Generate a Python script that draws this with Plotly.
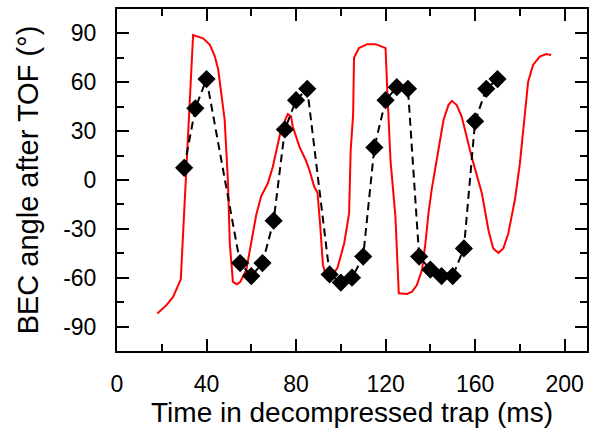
import plotly.graph_objects as go

# Experimental data (black diamonds)
exp_t = [30, 35, 40, 55, 60, 65, 70, 75, 80, 85, 95, 100, 105, 110, 115, 120,
         125, 130, 135, 140, 145, 150, 155, 160, 165, 170]
exp_angle = [7.5, 44, 62, -51, -59, -51, -25, 31, 49, 56, -58, -63, -60, -47, 20, 49,
             57, 56, -47, -55, -59, -59, -42, 36, 56, 62]

# Simulation (red line)
sim_t = [18, 22, 25, 27, 28.5, 34, 38.5, 41.5, 43.7, 45.2, 46.7, 48.1, 49, 49.6, 50.4,
         51.8, 53.6, 55.1, 57.8, 60, 62.2, 64.4, 67.4, 69.6, 71.1, 73.3, 76.3, 77.8,
         78.5, 81.5, 84.4, 86, 88.1, 89.6, 90.8, 92, 93.3, 95.5, 98.5, 101.5, 103.7,
         104.4, 105.5, 105.9, 108.1, 111.8, 115.6, 120, 120.7, 121.5, 122.2, 124.4,
         125.9, 129.6, 131.8, 134, 136.3, 137.8, 139.2, 140.7, 142.9, 145.9, 148.1,
         149.6, 151.8, 154, 158.5, 163, 166, 168.1, 170.4, 172.6, 174.8, 177.8, 180,
         182.2, 183.7, 185.9, 188.9, 191.8, 194]
sim_angle = [-82, -77, -72, -65, -61, 89, 87, 83, 76, 68, 53, 37, 14, -2, -39,
             -62.5, -64, -62.5, -55, -39, -21.5, -10, -2, 8, 18, 31, 40.5, 39,
             33, 20.5, 12, 6, -4, -8, -28, -52, -58.5, -60, -54, -39, -20.5,
             18, 40, 75, 81, 83.4, 83.4, 81, 57, 33, 12, -22.5,
             -69.6, -70, -68.6, -64.5, -55, -39, -20, -5, 12.3, 37, 46,
             48.6, 46, 39, 14, -8, -31, -42, -44.7, -42, -33, -12, 10,
             41, 60.4, 70.7, 75.8, 77.3, 76.8]

x_ticks = [0, 40, 80, 120, 160, 200]
y_ticks = [-90, -60, -30, 0, 30, 60, 90]
y_ticktext = ["-90", "-60", "-30", "0", "30", "60", "90"]

FONT = "Liberation Sans, Arial, sans-serif"

fig = go.Figure()
fig.add_trace(go.Scatter(x=sim_t, y=sim_angle, mode="lines",
                         line=dict(color="#ff0000", width=2), showlegend=False))
fig.add_trace(go.Scatter(x=exp_t, y=exp_angle, mode="lines+markers",
                         line=dict(color="black", width=2, dash="8px,5px"),
                         marker=dict(symbol="diamond", size=14, color="black"),
                         showlegend=False))

axis_common = dict(
    showline=True, linecolor="black", linewidth=2, mirror="ticks",
    ticks="inside", ticklen=12, tickwidth=2, tickcolor="black",
    showgrid=False, zeroline=False,
    tickfont=dict(family=FONT, size=23, color="black"),
)

fig.update_xaxes(range=[0, 210], tickvals=x_ticks,
                 title=dict(text="Time in decompressed trap (ms)",
                            font=dict(family=FONT, size=28, color="black"),
                            standoff=4),
                 ticklabelstandoff=11,
                 minor=dict(dtick=20, tick0=0, ticks="inside", ticklen=7,
                            tickwidth=2, tickcolor="black", showgrid=False),
                 **axis_common)
fig.update_yaxes(range=[-105, 105], tickvals=y_ticks, ticktext=y_ticktext,
                 title=dict(text="BEC angle after TOF (°)",
                            font=dict(family=FONT, size=29, color="black"),
                            standoff=16),
                 ticklabelstandoff=14,
                 minor=dict(dtick=15, tick0=0, ticks="inside", ticklen=7,
                            tickwidth=2, tickcolor="black", showgrid=False),
                 **axis_common)

fig.update_layout(width=590, height=434,
                  margin=dict(l=117, r=1, t=9, b=83),
                  plot_bgcolor="white", paper_bgcolor="white",
                  font=dict(family=FONT, color="black"))

fig.write_html("out.html")
